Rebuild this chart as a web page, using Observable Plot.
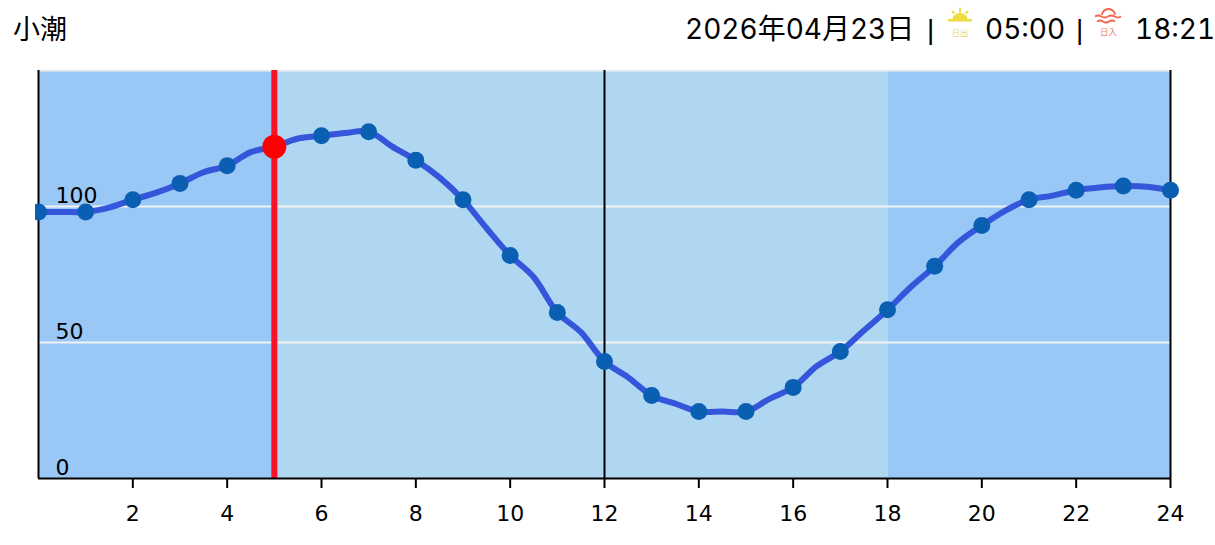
<!DOCTYPE html>
<html lang="ja">
<head>
<meta charset="utf-8">
<script src="https://cdn.jsdelivr.net/npm/d3@7"></script>
<script src="https://cdn.jsdelivr.net/npm/@observablehq/plot@0.6"></script>
<style>
html,body{margin:0;padding:0;background:#fff;width:1215px;height:545px;overflow:hidden}
#header{position:relative;height:62px;font-family:Inter,"Noto Sans CJK JP",sans-serif;font-size:28px;color:#000;font-variant-numeric:tabular-nums}
#header span{position:absolute;top:11px;line-height:36px;white-space:nowrap}
#header span.sep{font-family:"Liberation Sans";font-size:28px;top:12px}
#header svg{position:absolute}
#chart{height:483px}
#chart svg{display:block;background:none;clip-path:inset(0 0 0 35px)}
</style>
</head>
<body>
<div id="header">
  <span style="left:13px;font-family:'Noto Sans CJK JP';font-size:27px;top:10px">小潮</span>
  <span style="left:685px">2026年04月23日</span>
  <span class="sep" style="left:927px">|</span>
  <svg style="left:945px;top:5px" width="30" height="36" viewBox="0 0 30 36">
    <g fill="#efdc3e" stroke="#efdc3e">
      <path d="M15 2.500V7.500M7 6l2.500 2.500M23 6l-2.500 2.500" stroke-width="2" fill="none"/>
      <path d="M7.500 14a7.500 6 0 0 1 15 0z" stroke="none"/>
      <rect x="3" y="14" width="24" height="2.500" stroke="none"/>
    </g>
    <text x="15" y="31" font-size="8.500" text-anchor="middle" fill="#e9d970" font-family="Noto Sans CJK JP">日出</text>
  </svg>
  <span style="left:985px">05:00</span>
  <span class="sep" style="left:1076px">|</span>
  <svg style="left:1093px;top:5px" width="30" height="36" viewBox="0 0 30 36">
    <g fill="none" stroke="#f0674f" stroke-width="1.800">
      <path d="M9 10a6.500 6 0 0 1 13 0"/>
      <path d="M2 11.500q3.250 -2 6.500 0t6.500 0t6.500 0t6.500 0"/>
      <path d="M4 16.500q3 -2 6 0t6 0t6 0"/>
    </g>
    <text x="15.500" y="30" font-size="8.500" text-anchor="middle" fill="#ec7f6e" font-family="Noto Sans CJK JP">日入</text>
  </svg>
  <span style="left:1135px">18:21</span>
</div>
<div id="chart"></div>
<script>
// Hourly tide levels (dotted points)
const hours = [0,1,2,3,4,5,6,7,8,9,10,11,12,13,14,15,16,17,18,19,20,21,22,23,24];
const levels = [98,98,102.5,108.5,115,122,126,127.5,117,102.5,82,61,43,30.5,24.6,24.6,33.5,46.7,62,78,93,102.5,106,107.5,106];
// Half-hour levels
const halfHours = [0.5,1.5,2.5,3.5,4.5,5.5,6.5,7.5,8.5,9.5,10.5,11.5,12.5,13.5,14.5,15.5,16.5,17.5,18.5,19.5,20.5,21.5,22.5,23.5];
const halfLevels = [98,99.6,105.1,112.6,120,125,127,122,110.7,92,74,53.8,37.2,27.5,24.6,29.3,41.3,54.4,70.5,86.8,98.5,104,107,107.3];
const nightStart = [0,18.02];
const nightEnd = [5,24];
const dayStart = [5];
const dayEnd = [18.02];
const blackRules = [0,12,24];
const gridValues = [50,100];
const yLabels = [0,50,100];
const xTicks = [2,4,6,8,10,12,14,16,18,20,22,24];
const nowHour = 5;
const nowLevel = 122;
const yTop = 150;

const points = hours.map((h,i)=>({h,v:levels[i]}));
const linePts = points.concat(halfHours.map((h,i)=>({h,v:halfLevels[i]}))).sort((a,b)=>a.h-b.h);
const night = nightStart.map((s,i)=>({s,e:nightEnd[i]}));
const day = dayStart.map((s,i)=>({s,e:dayEnd[i]}));

const plot = Plot.plot({
  width:1215,
  height:483,
  marginTop:8,
  marginBottom:67,
  marginLeft:38,
  marginRight:45,
  x:{domain:[0,24],label:null,axis:null},
  y:{domain:[0,yTop],label:null,axis:null},
  style:{background:"none",overflow:"visible"},
  marks:[
    Plot.rect(night,{x1:"s",x2:"e",y1:0,y2:yTop,fill:"#99c8f7"}),
    Plot.rect(day,{x1:"s",x2:"e",y1:0,y2:yTop,fill:"#afd7f1"}),
    Plot.ruleY([yTop],{stroke:"#eeeeee",strokeWidth:2}),
    Plot.ruleY(gridValues,{stroke:"#f2f2f2",strokeWidth:2}),
    Plot.ruleX(blackRules,{stroke:"#000",strokeWidth:2}),
    Plot.ruleX([nowHour],{stroke:"#fe1027",strokeWidth:6}),
    Plot.ruleY([0],{stroke:"#000",strokeWidth:2}),
    Plot.axisX({ticks:xTicks,tickFormat:d=>String(d),anchor:"bottom",tickSize:10,tickPadding:17,fontSize:22,fontFamily:"DejaVu Sans",fill:"#000",stroke:"#000",strokeWidth:2,label:null}),
    Plot.text(yLabels,{x:0,y:d=>d,text:d=>String(d),dx:17,dy:-11,textAnchor:"start",fontSize:22,fontFamily:"DejaVu Sans",fill:"#000"}),
    Plot.line(linePts,{x:"h",y:"v",stroke:"#3556db",strokeWidth:6,curve:"catmull-rom"}),
    Plot.dot(points,{x:"h",y:"v",r:8.5,fill:"#0b5fb3"}),
    Plot.dot([{h:nowHour,v:nowLevel}],{x:"h",y:"v",r:12,fill:"#ff0000"})
  ]
});
document.getElementById("chart").appendChild(plot);
</script>
</body>
</html>
